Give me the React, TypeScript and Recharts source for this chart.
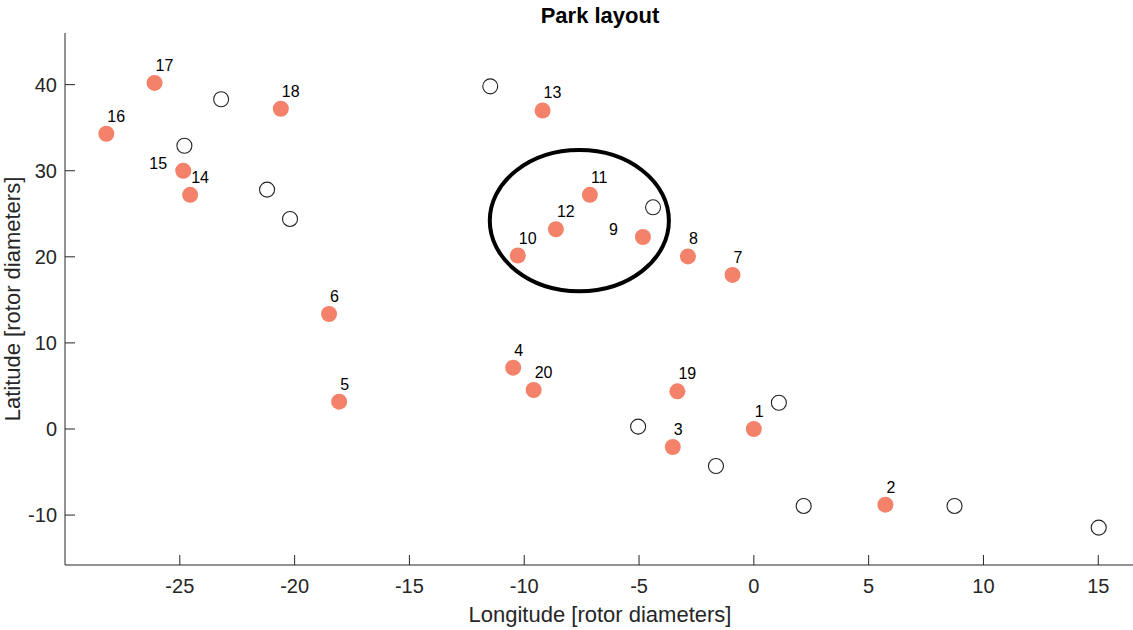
import React from "react";
import {
  ScatterChart,
  Scatter,
  XAxis,
  YAxis,
  ReferenceArea,
  Label,
} from "recharts";

// turbines of the park, numbered 1..20
const turbineIds = [1, 2, 3, 4, 5, 6, 7, 8, 9, 10, 11, 12, 13, 14, 15, 16, 17, 18, 19, 20];
const turbineLon = [
  0, 5.73, -3.53, -10.48, -18.06, -18.5, -0.93, -2.87, -4.83, -10.28,
  -7.14, -8.62, -9.2, -24.55, -24.85, -28.2, -26.1, -20.6, -3.33, -9.59,
];
const turbineLat = [
  0, -8.79, -2.09, 7.12, 3.17, 13.36, 17.9, 20.05, 22.3, 20.15,
  27.2, 23.2, 37.0, 27.2, 30.0, 34.3, 40.2, 37.2, 4.38, 4.53,
];

// other positions (unused sites)
const siteLon = [-23.2, -24.8, -21.2, -20.2, -11.48, -4.39, 1.09, -5.04, -1.65, 2.17, 8.74, 15.02];
const siteLat = [38.3, 32.9, 27.8, 24.4, 39.8, 25.75, 3.05, 0.27, -4.3, -8.94, -8.94, -11.46];

// highlighted group (ellipse bounds)
const groupLon = [-11.5, -3.7];
const groupLat = [16.0, 32.4];

const xTicks = [-25, -20, -15, -10, -5, 0, 5, 10, 15];
const yTicks = [-10, 0, 10, 20, 30, 40];

// labels that sit to the left of their marker
const leftLabels = [9, 15];

const turbines = turbineIds.map((id, i) => ({ id, x: turbineLon[i], y: turbineLat[i] }));
const sites = siteLon.map((x, i) => ({ x, y: siteLat[i] }));

const FONT = "'Liberation Sans', Arial, Helvetica, sans-serif";
const AXIS = "#262626";

function TurbineDot(props: any) {
  const { cx, cy, payload } = props;
  const left = leftLabels.includes(payload.id);
  return (
    <g>
      <circle cx={cx} cy={cy} r={8} fill="#F4826A" />
      <text
        x={left ? cx - 34 : cx + 1}
        y={left ? cy - 2 : cy - 12}
        fontSize={16}
        fontFamily={FONT}
        fill="#000"
      >
        {payload.id}
      </text>
    </g>
  );
}

function SiteDot(props: any) {
  const { cx, cy } = props;
  return <circle cx={cx} cy={cy} r={7.5} fill="none" stroke="#222" strokeWidth={1.1} />;
}

function GroupEllipse(props: any) {
  const { x, y, width, height } = props;
  return (
    <ellipse
      cx={x + width / 2}
      cy={y + height / 2}
      rx={width / 2}
      ry={height / 2}
      fill="none"
      stroke="#000"
      strokeWidth={4}
    />
  );
}

export default function App() {
  return (
    <div style={{ position: "absolute", left: 0, top: 0, width: 1133, height: 630, overflow: "hidden", background: "#fff" }}>
      <div
        style={{
          position: "absolute",
          left: 0,
          width: 1200,
          top: 3,
          textAlign: "center",
          fontFamily: FONT,
          fontWeight: "bold",
          fontSize: 22,
          color: "#000",
        }}
      >
        Park layout
      </div>
      <ScatterChart width={1140} height={630} margin={{ top: 33, right: 5, left: 0, bottom: 0 }}>
        <XAxis
          type="number"
          dataKey="x"
          domain={[-30, 16.6]}
          allowDataOverflow
          ticks={xTicks}
          height={65}
          tickSize={-10}
          tickMargin={24}
          stroke={AXIS}
          tick={{ fill: AXIS, fontSize: 20, fontFamily: FONT }}
        >
          <Label
            content={(p: any) => {
              const vb = p.viewBox;
              return (
                <text
                  x={600}
                  y={vb.y + 57}
                  textAnchor="middle"
                  fontSize={22}
                  fontFamily={FONT}
                  fill={AXIS}
                >
                  Longitude [rotor diameters]
                </text>
              );
            }}
          />
        </XAxis>
        <YAxis
          type="number"
          dataKey="y"
          domain={[-15.8, 46]}
          allowDataOverflow
          ticks={yTicks}
          width={65}
          tickSize={-10}
          tickMargin={18}
          stroke={AXIS}
          tick={{ fill: AXIS, fontSize: 20, fontFamily: FONT }}
        >
          <Label
            content={(p: any) => {
              const vb = p.viewBox;
              const cy = vb.y + vb.height / 2;
              return (
                <text
                  x={20}
                  y={cy}
                  transform={`rotate(-90, 20, ${cy})`}
                  textAnchor="middle"
                  fontSize={22}
                  fontFamily={FONT}
                  fill={AXIS}
                >
                  Latitude [rotor diameters]
                </text>
              );
            }}
          />
        </YAxis>
        <ReferenceArea
          x1={groupLon[0]}
          x2={groupLon[1]}
          y1={groupLat[0]}
          y2={groupLat[1]}
          shape={GroupEllipse}
        />
        <Scatter data={sites} shape={SiteDot} isAnimationActive={false} />
        <Scatter data={turbines} shape={TurbineDot} isAnimationActive={false} />
      </ScatterChart>
    </div>
  );
}
